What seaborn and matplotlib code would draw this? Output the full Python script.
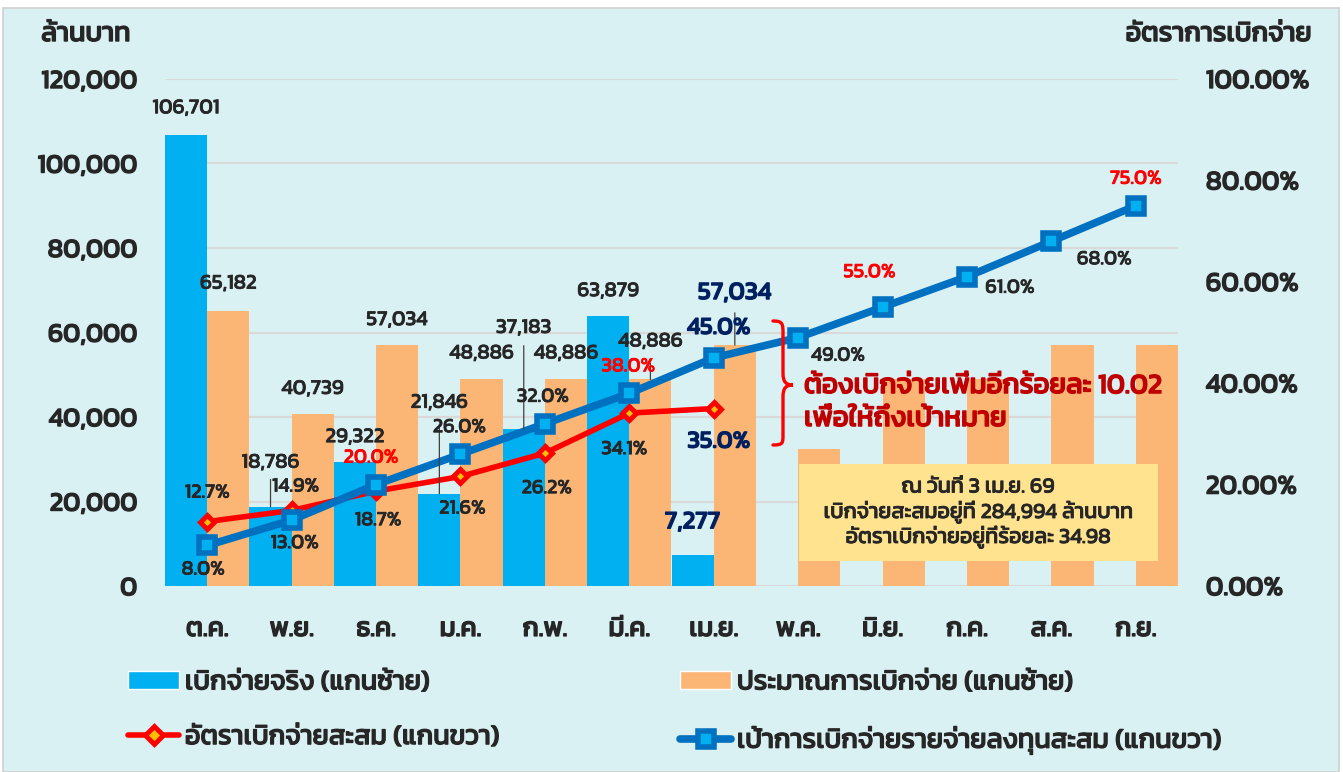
import numpy as np
import pandas as pd
import matplotlib
matplotlib.use("Agg")
import matplotlib.pyplot as plt
import matplotlib.patheffects as pe
import seaborn as sns
from matplotlib import font_manager
from matplotlib.ft2font import FT2Font
from matplotlib.patches import Patch, Rectangle, PathPatch
from matplotlib.lines import Line2D
from matplotlib.path import Path

# ---- data ----
months = ["ต.ค.", "พ.ย.", "ธ.ค.", "ม.ค.", "ก.พ.", "มี.ค.", "เม.ย.",
          "พ.ค.", "มิ.ย.", "ก.ค.", "ส.ค.", "ก.ย."]
actual = [106701, 18786, 29322, 21846, 37183, 63879, 7277]
plan = [65182, 40739, 57034, 48886, 48886, 48886, 57034,
        32400, 48886, 48886, 57034, 57034]
rate = [12.7, 14.9, 18.7, 21.6, 26.2, 34.1, 35.0]
target = [8.0, 13.0, 20.0, 26.0, 32.0, 38.0, 45.0, 49.0, 55.0, 61.0, 68.0, 75.0]

left_ticks = [0, 20000, 40000, 60000, 80000, 100000, 120000]
right_ticks = [0, 20, 40, 60, 80, 100]

legend_labels = ["เบิกจ่ายจริง (แกนซ้าย)", "ประมาณการเบิกจ่าย (แกนซ้าย)",
                 "อัตราเบิกจ่ายสะสม (แกนขวา)",
                 "เป้าการเบิกจ่ายรายจ่ายลงทุนสะสม (แกนขวา)"]
note_lines = ["ณ วันที่ 3 เม.ย. 69",
              "เบิกจ่ายสะสมอยู่ที่ 284,994 ล้านบาท",
              "อัตราเบิกจ่ายอยู่ที่ร้อยละ 34.98"]
gap_lines = ["ต้องเบิกจ่ายเพิ่มอีกร้อยละ 10.02", "เพื่อให้ถึงเป้าหมาย"]

# label offsets in pixels (dx, dy up, leader-line gap)
actual_off = [(0, 27, None), (0, 44, 9), (0, 25, None), (0, 91, 19),
              (0, 101, 11), (0, 25, None), (0, 33, None)]
plan_off = [(0, 27, None), (0, 25, None), (0, 25, None), (0, 26, None),
            (0, 26, None), (0, 38, 19), (0, 52, 11)]
rate_off = [(0, 29), (4, 24), (2, -29), (2, -32), (2, -35), (-5, -36), (5, -33)]
target_off = [(-4, -24), (3, -23), (-5, 27), (-1, 27), (-2, 27), (-1, 27),
              (5, 30), (40, -18), (-13, 35), (43, -11), (53, -18), (0, 27)]

BG = "#DAF1F4"
BLUE_BAR = "#00B0F0"
ORANGE = "#FBB676"
RED = "#FF0000"
BLUE_LINE = "#0070C0"
NAVY = "#002060"
DARK = "#262626"
W, H = 1343, 772
PX = 0.72  # points per pixel at dpi 100


def find_thai_font():
    prefs = ["Kanit", "Prompt", "Noto Sans Thai", "Noto Sans Thai UI", "Sarabun",
             "Loma", "Garuda", "Waree", "Umpush", "Tlwg Typo", "Kinnari", "Norasi"]
    found = {}
    for f in font_manager.fontManager.ttflist:
        try:
            if 0x0E01 in FT2Font(f.fname).get_charmap():
                found.setdefault(f.name, f.fname)
        except Exception:
            pass
    for p in prefs:
        if p in found:
            return p
    return next(iter(found), None)


def heavy(text, w, color):
    text.set_path_effects([pe.withStroke(linewidth=w, foreground=color)])


sns.set_style("white")
thai = find_thai_font()
plt.rcParams["font.family"] = ([thai] if thai else []) + ["DejaVu Sans"]

fig = plt.figure(figsize=(W / 100, H / 100), dpi=100, facecolor="white")
fig.add_artist(Rectangle((3 / W, 0), 1336 / W, 764 / H, transform=fig.transFigure,
                         facecolor=BG, edgecolor="#D0D0D0", lw=1.2, zorder=-10))

ax = fig.add_axes([165 / W, 1 - 586 / H, 1013 / W, 507 / H])
ax.set_facecolor("none")

bars = pd.DataFrame({
    "month": months[:len(actual)] + months,
    "value": actual + plan,
    "series": ["actual"] * len(actual) + ["plan"] * len(plan),
})
sns.barplot(data=bars, x="month", y="value", hue="series", order=months,
            hue_order=["actual", "plan"],
            palette={"actual": BLUE_BAR, "plan": ORANGE},
            width=1.0, saturation=1, errorbar=None, linewidth=0,
            legend=False, ax=ax)

ax.set_ylim(0, 120000)
ax.set_yticks(left_ticks)
ax.set_yticklabels([f"{v:,}" for v in left_ticks])
ax.yaxis.grid(True, color="#D9D9D9", lw=1.6)
ax.set_axisbelow(True)
ax.set_xlabel("")
ax.set_ylabel("")
for s in ax.spines.values():
    s.set_visible(False)

ax2 = ax.twinx()
sns.pointplot(x=months[:len(rate)], y=rate, order=months, color=RED,
              markers="D", linestyles="-", linewidth=4, markersize=7.5,
              markeredgewidth=3.5, markerfacecolor="#FFC000",
              markeredgecolor=RED, errorbar=None, ax=ax2)
sns.pointplot(x=months, y=target, order=months, color=BLUE_LINE,
              markers="s", linestyles="-", linewidth=5.5, markersize=12,
              markeredgewidth=4, markerfacecolor=BLUE_BAR,
              markeredgecolor=BLUE_LINE, errorbar=None, ax=ax2)
ax2.set_ylim(0, 100)
ax2.set_yticks(right_ticks)
ax2.set_yticklabels([f"{v:.2f}%" for v in right_ticks])
ax2.set_ylabel("")
for s in ax2.spines.values():
    s.set_visible(False)

ax.set_xlim(-0.5, len(months) - 0.5)
ax.set_xticks(range(len(months)))
ax.set_xticklabels(months)
ax.tick_params(axis="x", length=0, pad=23, labelsize=19, labelcolor=DARK)
ax.tick_params(axis="y", length=0, pad=20, labelsize=19, labelcolor=DARK)
ax2.tick_params(axis="y", length=0, pad=20, labelsize=19.5, labelcolor=DARK)
for t in ax.get_xticklabels() + ax.get_yticklabels() + ax2.get_yticklabels():
    heavy(t, 1.0, DARK)


def put_label(x, y, text, off, color, size, coords):
    dx, dy = off[0], off[1]
    gap = off[2] if len(off) > 2 else None
    kw = {}
    if gap is not None:
        kw["arrowprops"] = dict(arrowstyle="-", color="#404040", lw=0.9,
                                shrinkA=gap * PX * 0.5, shrinkB=0, relpos=(0.5, 0))
    a = ax2.annotate(text, (x, y), xycoords=coords, xytext=(dx * PX, dy * PX),
                     textcoords="offset points", ha="center", va="center",
                     color=color, fontsize=size, zorder=6, **kw)
    heavy(a, 0.6 if size < 16 else 1.0, color)


for i, v in enumerate(actual):
    big = i == 6
    put_label(i - 0.25, v, f"{v:,}", actual_off[i], NAVY if big else DARK,
              18 if big else 15, ax.transData)
for i in range(len(actual)):
    v = plan[i]
    big = i == 6
    put_label(i + 0.25, v, f"{v:,}", plan_off[i], NAVY if big else DARK,
              18 if big else 15, ax.transData)
for i, v in enumerate(rate):
    big = i == 6
    put_label(i, v, f"{v:.1f}%", rate_off[i], NAVY if big else DARK,
              17.5 if big else 14.5, ax2.transData)
for i, v in enumerate(target):
    if i in (2, 5, 8, 11):
        color, size = RED, 14.5
    elif i == 6:
        color, size = NAVY, 17.5
    else:
        color, size = DARK, 14.5
    put_label(i, v, f"{v:.1f}%", target_off[i], color, size, ax2.transData)

# axis titles
for x, title in [(86, "ล้านบาท"), (1219, "อัตราการเบิกจ่าย")]:
    t = fig.text(x / W, 1 - 35 / H, title, ha="center", va="center",
                 fontsize=19.5, color=DARK)
    heavy(t, 1.0, DARK)


# red brace and note
def fp(x, y):
    return (x / W, 1 - y / H)


brace = Path([fp(773, 321), fp(783, 321), fp(783, 324), fp(783, 334),
              fp(783, 373), fp(783, 382), fp(786, 385), fp(793, 385),
              fp(786, 385), fp(783, 388), fp(783, 397),
              fp(783, 435), fp(783, 443), fp(783, 445), fp(773, 445)],
             [Path.MOVETO, Path.CURVE4, Path.CURVE4, Path.CURVE4,
              Path.LINETO, Path.CURVE4, Path.CURVE4, Path.CURVE4,
              Path.CURVE4, Path.CURVE4, Path.CURVE4,
              Path.LINETO, Path.CURVE4, Path.CURVE4, Path.CURVE4])
fig.add_artist(PathPatch(brace, transform=fig.transFigure, facecolor="none",
                         edgecolor=RED, lw=2.4, capstyle="round", zorder=5))
for k, line in enumerate(gap_lines):
    t = fig.text(804 / W, 1 - (386 + 33 * k) / H, line, ha="left", va="center",
                 fontsize=20, color="#C00000", zorder=6)
    heavy(t, 1.1, "#C00000")

# info box
fig.add_artist(Rectangle(fp(799, 561), 359 / W, 97 / H, transform=fig.transFigure,
                         facecolor="#FFE38F", edgecolor="none", zorder=5))
for k, line in enumerate(note_lines):
    t = fig.text(978 / W, 1 - (487 + 25 * k) / H, line, ha="center", va="center",
                 fontsize=15.5, color=DARK, zorder=6)
    heavy(t, 0.6, DARK)

# legends
h_actual = Patch(facecolor=BLUE_BAR)
h_plan = Patch(facecolor=ORANGE)
h_rate = Line2D([], [], color=RED, lw=4, marker="D", ms=9, mew=3.5,
                mfc="#FFC000", mec=RED)
h_target = Line2D([], [], color=BLUE_LINE, lw=5.5, marker="s", ms=12, mew=4,
                  mfc=BLUE_BAR, mec=BLUE_LINE)
leg_kw = dict(loc="upper left", frameon=False, fontsize=19.5, handlelength=1.9,
              handleheight=0.63, handletextpad=0.2, labelspacing=1.12,
              borderpad=0, borderaxespad=0, labelcolor=DARK)
for x, hs, ls in [(128, [h_actual, h_rate], [legend_labels[0], legend_labels[2]]),
                  (680, [h_plan, h_target], [legend_labels[1], legend_labels[3]])]:
    leg = fig.legend(hs, ls, bbox_to_anchor=fp(x, 671), **leg_kw)
    for t in leg.get_texts():
        heavy(t, 0.9, DARK)

fig.savefig("out.png", dpi=100, facecolor="white")
